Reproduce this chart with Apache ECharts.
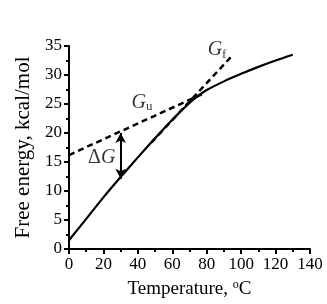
<!DOCTYPE html>
<html><head><meta charset="utf-8">
<script src="https://cdn.jsdelivr.net/npm/echarts@6/dist/echarts.min.js"></script>
<style>html,body{margin:0;padding:0;background:#fff}#c{width:327px;height:304px}</style>
</head><body><div id="c"></div>
<script>
const solidX = [0, 10, 20, 30, 40, 50, 60, 70, 75, 80, 90, 100, 110, 120, 130];
const solidY = [1.5, 5.2, 8.9, 12.4, 15.8, 19.1, 22.3, 25.2, 26.4, 27.4, 28.9, 30.2, 31.4, 32.5, 33.5];
const guX = [0, 78];
const guY = [16.2, 26.8];
const gfX = [48, 95];
const gfY = [18.4, 33.4];
const deltaX = 30;
const deltaTop = 20.3;
const deltaBottom = 11.8;
const xTicks = [0, 20, 40, 60, 80, 100, 120, 140];
const yTicks = [0, 5, 10, 15, 20, 25, 30, 35];

const font = 'Liberation Serif';
const pair = (xs, ys) => xs.map((x, i) => [x, ys[i]]);
const chart = echarts.init(document.getElementById('c'));
chart.setOption({
  animation: false,
  grid: {left: 69, right: 17, top: 46, bottom: 55, containLabel: false, outerBoundsMode: 'none'},
  xAxis: {
    type: 'value', min: xTicks[0], max: xTicks[xTicks.length - 1], interval: 20,
    name: 'Temperature, {sup|o}C', nameLocation: 'middle', nameGap: 30,
    nameTextStyle: {fontFamily: font, fontSize: 19, color: '#000',
      rich: {sup: {fontFamily: font, fontSize: 12, verticalAlign: 'top', padding: [0, 0, 9, 0], color: '#000'}}},
    axisLine: {onZero: false, lineStyle: {color: '#000', width: 2}},
    axisTick: {length: 5, lineStyle: {color: '#000', width: 2}},
    minorTick: {show: true, splitNumber: 2, length: 3, lineStyle: {color: '#000', width: 2}},
    axisLabel: {fontFamily: font, fontSize: 17, color: '#000', margin: 7},
    splitLine: {show: false}
  },
  yAxis: {
    type: 'value', min: yTicks[0], max: yTicks[yTicks.length - 1], interval: 5,
    name: 'Free energy, kcal/mol', nameLocation: 'middle', nameGap: 35,
    nameTextStyle: {fontFamily: font, fontSize: 21, color: '#000'},
    axisLine: {onZero: false, lineStyle: {color: '#000', width: 2}},
    axisTick: {length: 5, lineStyle: {color: '#000', width: 2}},
    minorTick: {show: true, splitNumber: 2, length: 3, lineStyle: {color: '#000', width: 2}},
    axisLabel: {fontFamily: font, fontSize: 17, color: '#000', margin: 7},
    splitLine: {show: false}
  },
  series: [
    {type: 'line', data: pair(solidX, solidY), smooth: 0.3, symbol: 'none',
     lineStyle: {color: '#000', width: 2.2}},
    {type: 'line', data: pair(guX, guY), symbol: 'none',
     lineStyle: {color: '#000', width: 2.5, type: [6, 4]}},
    {type: 'line', data: pair(gfX, gfY), symbol: 'none',
     lineStyle: {color: '#000', width: 2.5, type: [6, 4]}},
    {type: 'line', data: [[deltaX, deltaTop], [deltaX, deltaBottom]], symbol: 'none',
     lineStyle: {color: '#000', width: 0},
     markLine: {silent: true, symbol: ['arrow', 'arrow'], symbolSize: [8, 10],
       label: {show: false}, lineStyle: {color: '#000', width: 2, type: 'solid'},
       data: [[{coord: [deltaX, deltaTop - 0.3]}, {coord: [deltaX, deltaBottom + 0.3]}]]}},
    {type: 'scatter', symbolSize: 0, silent: true,
     data: [
       {value: [86, 34.3], label: {formatter: '{g|G}{s|f}'}},
       {value: [42.4, 25.3], label: {formatter: '{g|G}{s|u}'}},
       {value: [19, 15.7], label: {formatter: '{d|Δ}{g|G}'}}
     ],
     label: {show: true, position: 'inside', color: '#000',
       rich: {
         g: {fontFamily: font, fontStyle: 'italic', fontSize: 20, color: '#000'},
         d: {fontFamily: font, fontSize: 20, color: '#000'},
         s: {fontFamily: font, fontSize: 13, color: '#000', verticalAlign: 'bottom', padding: [9, 0, 0, 0]}
       }}}
  ]
});
</script></body></html>
